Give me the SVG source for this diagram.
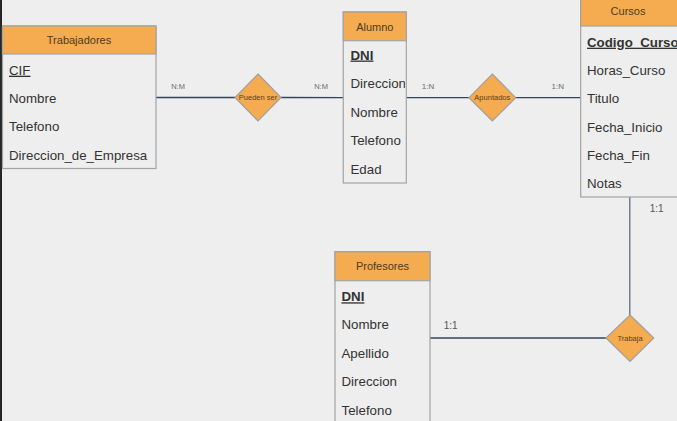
<svg xmlns="http://www.w3.org/2000/svg" width="677" height="421" viewBox="0 0 677 421">
<defs>
<style>
.box{fill:#eeeeee;stroke:#a3a3a3;stroke-width:1.2}
.hdr{fill:#f5ab4f;stroke:#a3a3a3;stroke-width:1.2}
.ht{font-family:"Liberation Sans",Arial,sans-serif;font-size:11px;fill:#4d3b22;text-anchor:middle}
.row{font-family:"Liberation Sans",Arial,sans-serif;font-size:13.3px;fill:#333333}
.key{font-weight:bold;text-decoration:underline}
.keyr{text-decoration:underline}
.dia{fill:#f5ab4f;stroke:#a0a0a0;stroke-width:1.2}
.dt{font-family:"Liberation Sans",Arial,sans-serif;font-size:7.5px;fill:#5a4020;text-anchor:middle}
.ln{stroke:#33445a;stroke-width:1.3;fill:none}
.lb{font-family:"Liberation Sans",Arial,sans-serif;fill:#6a6a6a;text-anchor:middle}
.lb1{fill:#555555}
</style>
<clipPath id="cA"><rect x="343" y="41" width="62" height="142"/></clipPath>
<clipPath id="cC"><rect x="581" y="26" width="96" height="171"/></clipPath>
</defs>
<rect x="0" y="0" width="677" height="421" fill="#eeeeee"/>
<rect x="0" y="0" width="2" height="421" fill="#262626"/>

<g id="connectors">
<line class="ln" x1="156" y1="97.5" x2="235" y2="97.5"/>
<line class="ln" x1="281" y1="97.5" x2="343" y2="97.7"/>
<line class="ln" x1="406" y1="97.7" x2="469" y2="97.7"/>
<line class="ln" x1="516" y1="97.7" x2="581" y2="97.7"/>
<line class="ln" x1="629.8" y1="197" x2="629.8" y2="315" style="stroke:#5d6d7d"/>
<line class="ln" x1="430" y1="338" x2="606" y2="338"/>
<text class="lb" x="178" y="88.5" font-size="7.5">N:M</text>
<text class="lb" x="321" y="88.5" font-size="7.5">N:M</text>
<text class="lb" x="428" y="88.8" font-size="8">1:N</text>
<text class="lb" x="557.7" y="88.8" font-size="8">1:N</text>
<text class="lb lb1" x="656.7" y="211.5" font-size="10">1:1</text>
<text class="lb lb1" x="450.7" y="329.3" font-size="10">1:1</text>
</g>

<g id="trabajadores">
<rect class="box" x="2.5" y="26" width="153.5" height="142.5"/>
<rect class="hdr" x="2.5" y="26" width="153.5" height="28"/>
<text class="ht" x="79" y="44">Trabajadores</text>
<text class="row keyr" x="9" y="74.7">CIF</text>
<text class="row" x="9" y="103">Nombre</text>
<text class="row" x="9" y="131.3">Telefono</text>
<text class="row" x="9" y="159.7">Direccion_de_Empresa</text>
</g>

<g id="pueden_ser">
<polygon class="dia" points="258,74 281,97.5 258,121 235,97.5"/>
<text class="dt" x="258" y="100">Pueden ser</text>
</g>

<g id="alumno">
<rect class="box" x="343.3" y="12" width="63" height="171"/>
<rect class="hdr" x="343.3" y="12" width="63" height="28.7"/>
<text class="ht" x="374.8" y="30.5">Alumno</text>
<g clip-path="url(#cA)">
<text class="row key" x="350.5" y="59.5">DNI</text>
<text class="row" x="350.5" y="87.8">Direccion</text>
<text class="row" x="350.5" y="116.5">Nombre</text>
<text class="row" x="350.5" y="144.8">Telefono</text>
<text class="row" x="350.5" y="173.5">Edad</text>
</g>
</g>

<g id="apuntados">
<polygon class="dia" points="492.3,74 515.7,97.7 492.3,121 469,97.7"/>
<text class="dt" x="492.3" y="100.2" font-size="7">Apuntados</text>
</g>

<g id="cursos">
<rect class="box" x="580.7" y="-2" width="104" height="199"/>
<rect class="hdr" x="580.7" y="-2" width="104" height="28"/>
<text class="ht" x="628" y="15">Cursos</text>
<g clip-path="url(#cC)">
<text class="row key" x="587" y="46.7">Codigo_Curso</text>
<text class="row" x="587" y="74.8">Horas_Curso</text>
<text class="row" x="587" y="103">Titulo</text>
<text class="row" x="587" y="131.5">Fecha_Inicio</text>
<text class="row" x="587" y="159.8">Fecha_Fin</text>
<text class="row" x="587" y="188">Notas</text>
</g>
</g>

<g id="trabaja">
<polygon class="dia" points="630,315 653.7,338 630,361.5 606,338"/>
<text class="dt" x="630" y="340.5" font-size="7">Trabaja</text>
</g>

<g id="profesores">
<rect class="box" x="335" y="251.7" width="95" height="180"/>
<rect class="hdr" x="335" y="251.7" width="95" height="29"/>
<text class="ht" x="382.5" y="270">Profesores</text>
<text class="row key" x="341.5" y="301.3">DNI</text>
<text class="row" x="341.5" y="329.3">Nombre</text>
<text class="row" x="341.5" y="357.7">Apellido</text>
<text class="row" x="341.5" y="386.2">Direccion</text>
<text class="row" x="341.5" y="414.5">Telefono</text>
</g>
</svg>
